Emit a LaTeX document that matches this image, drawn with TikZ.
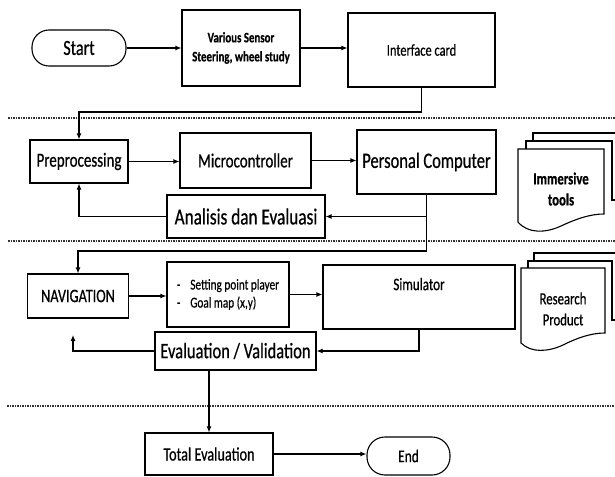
\documentclass[tikz,border=0pt]{standalone}
\usepackage{fontspec}
\setmainfont{Carlito}[FakeStretch=0.75, FakeBold=0.6]
\usetikzlibrary{arrows.meta}
\begin{document}
\begin{tikzpicture}[x=1pt,y=-1pt,
  box/.style={draw, line width=1.1pt, inner sep=0pt, align=center},
  term/.style={box, rounded corners=17pt},
  conn/.style={line width=1.1pt, -{Latex[length=6pt,width=5pt]}},
  sep/.style={line width=1.1pt, dash pattern=on 1.5pt off 1pt, black!80},
  page/.style={line width=1.1pt, fill=white}]
\useasboundingbox (0,0) rectangle (615,476);

% separators
\draw[sep] (8,118) -- (615,118);
\draw[sep] (8,241) -- (615,241);
\draw[sep] (7,406) -- (615,406);

% nodes
\node[term, minimum width=94pt, minimum height=36pt, font=\fontsize{21.5}{25}\selectfont] (start) at (79,48) {Start};
\node[box, minimum width=118pt, minimum height=76pt, font=\bfseries\fontsize{14.5}{19}\selectfont] (sensor) at (241,48) {Various Sensor\\Steering, wheel study};
\node[box, minimum width=147pt, minimum height=74pt, font=\fontsize{16.5}{20}\selectfont] (iface) at (421.5,50) {Interface card};
\node[box, minimum width=98pt, minimum height=43pt, font=\fontsize{20}{24}\selectfont] (pre) at (79,161.5) {Preprocessing};
\node[box, minimum width=131pt, minimum height=55pt, font=\fontsize{20}{24}\selectfont] (micro) at (245.5,160.5) {Microcontroller};
\node[box, minimum width=139pt, minimum height=64pt, font=\fontsize{22}{26}\selectfont] (pc) at (426.5,162) {Personal Computer};
\node[box, minimum width=158pt, minimum height=43pt, font=\fontsize{23}{27}\selectfont] (ana) at (246,216.5) {Analisis dan Evaluasi};
\node[box, minimum width=101pt, minimum height=44pt, font=\fontsize{19}{23}\selectfont] (nav) at (78,296) {NAVIGATION};
\node[box, minimum width=122pt, minimum height=65pt, font=\fontsize{15}{18}\selectfont, align=left] (set) at (228,294.5) {-\hspace{10pt}Setting point player\\-\hspace{10pt}Goal map (x,y)};
\node[box, minimum width=192pt, minimum height=64pt, label={[anchor=north, yshift=-10pt, font=\fontsize{17.5}{21}\selectfont]north:Simulator}] (sim) at (419,297) {};
\node[box, minimum width=161pt, minimum height=38pt, font=\fontsize{22}{26}\selectfont] (eval) at (235.5,351) {Evaluation / Validation};
\node[box, minimum width=128pt, minimum height=42pt, font=\fontsize{19}{23}\selectfont] (total) at (209,454) {Total Evaluation};
\node[term, minimum width=83pt, minimum height=38pt, rounded corners=18pt, font=\fontsize{18}{22}\selectfont] (end) at (408.5,456) {End};

% document stacks
\draw[page] (533,141) -- (533,133) -- (620,133);
\draw[page] (526,149) -- (526,141) -- (612,141) -- (612,200) -- (616,200);
\draw[page] (518,149) -- (604,149) -- (604,214) .. controls (590,214) and (576,219) .. (561,226) .. controls (546,233) and (528,234) .. (518,222) -- cycle;
\node[font=\bfseries\fontsize{17}{21}\selectfont, align=center] (imm) at (561,189) {Immersive\\tools};

\draw[page] (534,261) -- (534,253) -- (620,253);
\draw[page] (528,268) -- (528,261) -- (612,261) -- (612,320) -- (616,320);
\draw[page] (521,268) -- (605,268) -- (605,333) .. controls (591,333) and (577,338) .. (563,345) .. controls (548,352) and (531,353) .. (521,343) -- cycle;
\node[font=\fontsize{17}{21}\selectfont, align=center] (res) at (563,309) {Research\\Product};

% connectors
\draw[conn] (start) -- (sensor);
\draw[conn] (sensor.east) -- (sensor.east -| iface.west);
\coordinate (c1) at (79,112);
\draw[conn] (iface.south) |- (c1) -- (pre.north);
\draw[conn] (pre.east) -- (pre.east -| micro.west);
\draw[conn] (micro.east) -- (micro.east -| pc.west);
\draw[conn] (pc.south) |- (ana.east);
\draw[conn] (ana.west) -| (pre.south);
\coordinate (c2) at (78,251);
\draw[conn] (pc.south) |- (c2) -- (nav.north);
\draw[conn] (nav.east) -- (nav.east -| set.west);
\draw[conn] (set.east) -- (set.east -| sim.west);
\draw[conn] (sim.south) |- (eval.east);
\coordinate (c3) at (73,335);
\draw[conn] (eval.west) -| (c3);
\draw[conn] (total.north |- eval.south) -- (total.north);
\draw[conn] (total.east) -- (total.east -| end.west);
\end{tikzpicture}
\end{document}
